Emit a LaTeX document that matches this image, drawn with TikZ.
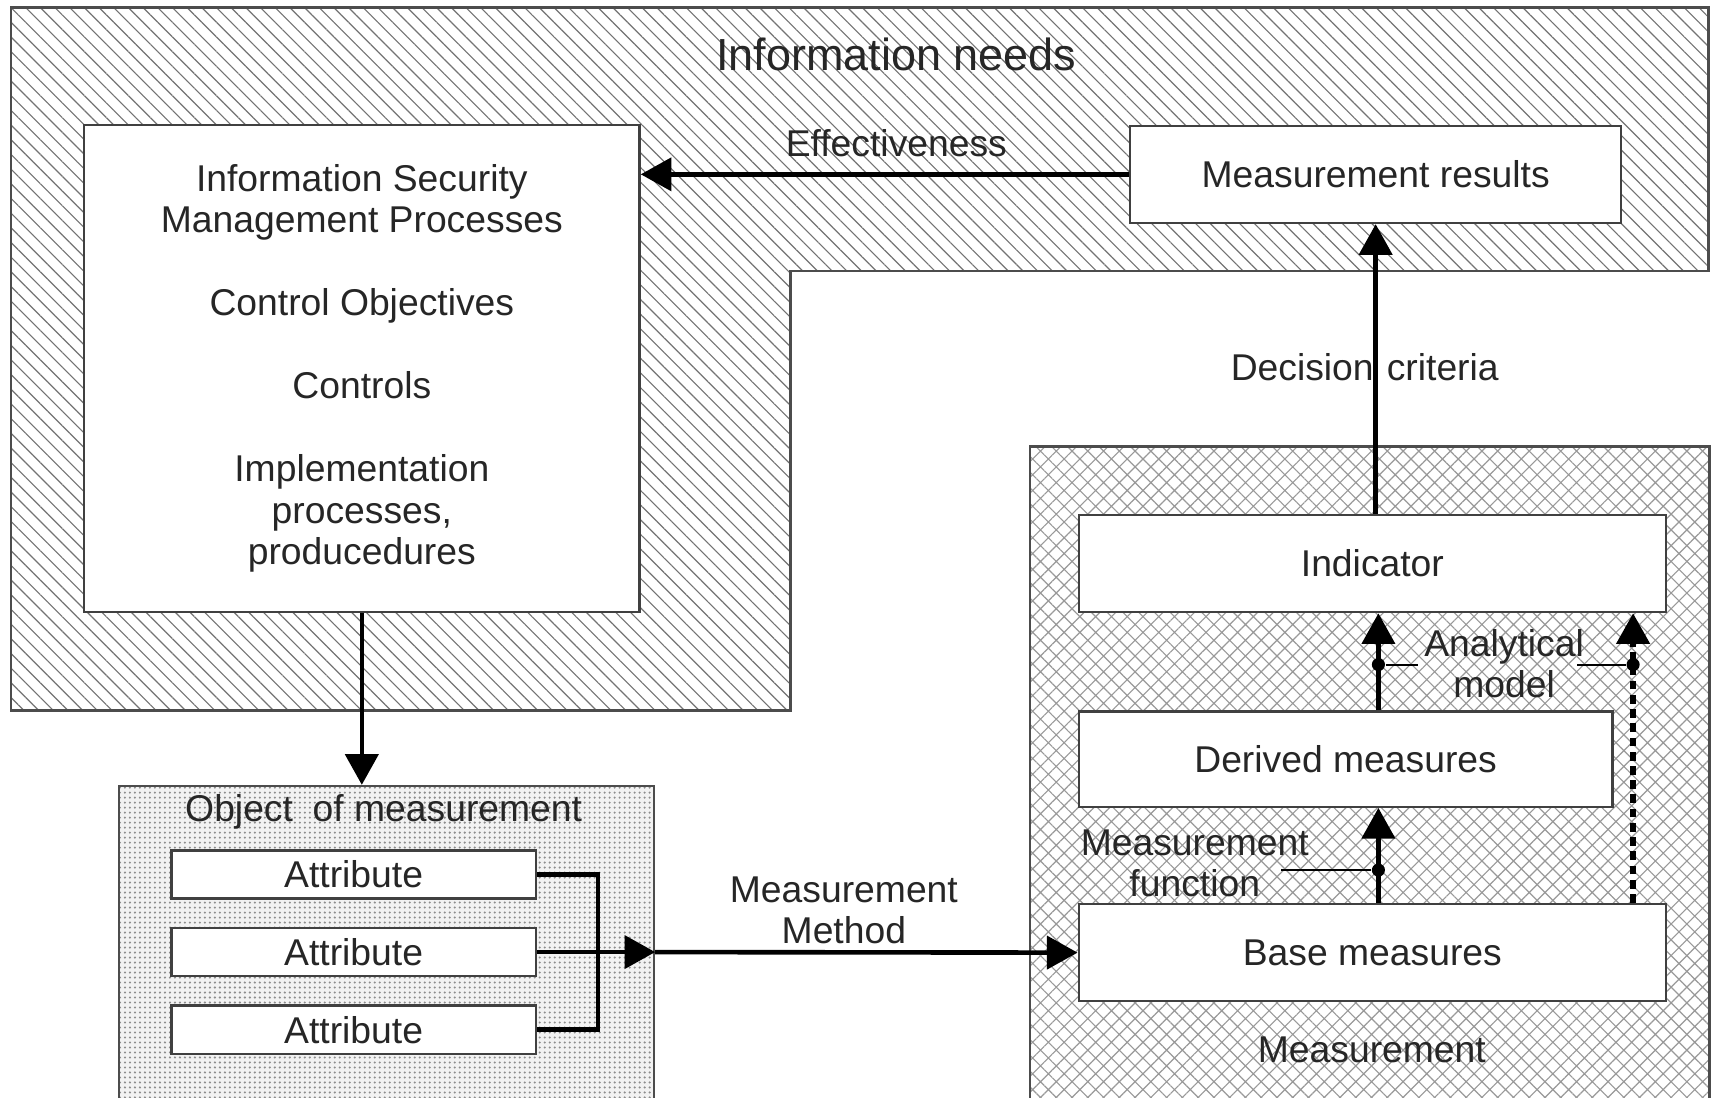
\documentclass[tikz,border=0pt]{standalone}
\usepackage{fontspec}
\setmainfont{Liberation Sans}
\usetikzlibrary{arrows.meta,patterns.meta,calc}

\begin{document}
\begin{tikzpicture}[x=0.01cm, y=-0.01cm,
  every node/.style={font=\fontsize{9.7}{10.8}\selectfont, text=black!85},
  box/.style={draw=black!75, line width=0.6pt, fill=white, rectangle, inner sep=0pt},
  area/.style={draw=black!70, line width=0.6pt, rectangle, anchor=north west, inner sep=0pt},
  flow/.style={line width=1.2pt, -{Triangle[length=0.28cm,width=0.3cm]}},
  wire/.style={line width=1.2pt},
  leader/.style={line width=0.5pt},
  hub/.style={circle, fill=black, inner sep=0pt, minimum size=0.12cm}]

\fill[white] (0,0) rectangle (1568,1004);
\clip (0,0) rectangle (1568,1004);

\draw[line width=0.7pt, draw=black!70, pattern={Lines[angle=-45,distance=2.7pt,line width=0.3pt]}, pattern color=black!55]
  (10,7) -- (1563,7) -- (1563,248) -- (723,248) -- (723,650) -- (10,650) -- cycle;
\node (measurement) [area, minimum width=6.21cm, minimum height=6.5cm, preaction={fill=white}, pattern={Hatch[angle=45,distance=2.9pt,line width=0.3pt]}, pattern color=black!40] at (942,408) {};
\node (object) [area, minimum width=4.89cm, minimum height=3.5cm, preaction={fill=gray!10}, pattern={Dots[distance=1.3pt,radius=0.3pt]}, pattern color=black!45] at (108,718) {};

\node (needs) [font=\fontsize{11.7}{14}\selectfont] at (820,50) {Information needs};
\node (objtitle) at (351,743) {Object\hspace{0.18cm}of measurement};
\node (meastitle) at (1255,960) {Measurement};

\node (isms) [box, align=center, minimum width=5.08cm, minimum height=4.45cm] at (331,337) {Information Security\\Management Processes\\[10.8pt]Control Objectives\\[10.8pt]Controls\\[10.8pt]Implementation\\processes,\\producedures};
\node (results) [box, minimum width=4.49cm, minimum height=0.89cm] at (1258.5,159.5) {Measurement results};
\node (indicator) [box, minimum width=5.37cm, minimum height=0.89cm] at (1255.5,515.5) {Indicator};
\node (derived) [box, minimum width=4.88cm, minimum height=0.87cm] at (1231,694.5) {Derived measures};
\node (base) [box, minimum width=5.37cm, minimum height=0.89cm] at (1255.5,871.5) {Base measures};
\node (attr1) [box, minimum width=3.33cm, minimum height=0.44cm] at (323.5,800) {Attribute};
\node (attr2) [box, minimum width=3.33cm, minimum height=0.44cm] at (323.5,871) {Attribute};
\node (attr3) [box, minimum width=3.33cm, minimum height=0.44cm] at (323.5,942) {Attribute};

\node (effect) at (820,131) {Effectiveness};
\node (decision) at (1248.5,336) {Decision\hspace{0.12cm}criteria};
\node (mfunc) [align=center] at (1093,790) {Measurement\\function};
\node (amodel) [align=center] at (1376,607) {Analytical\\model};
\node (method) [align=center] at (772,833) {Measurement\\Method};

\node (fdot) [hub] at (1261,796) {};
\node (adot) [hub] at (1261,608) {};
\node (mdot) [hub] at (1494,608) {};
\coordinate (ftick) at (1172,796);
\coordinate (atick) at (1297,608);
\coordinate (mtick) at (1443,608);
\coordinate (join) at (547,871);

\draw[flow] (results.west) -- (results.west -| isms.east);
\draw[flow] (indicator.north -| results.south) -- (results.south);
\draw[flow] (isms.south) -- (isms.south |- object.north);
\draw[wire] (attr1.east) -| (join) |- (attr3.east);
\draw[flow] (attr2.east) -- (attr2.east -| object.east);
\draw[flow] (attr2.east -| object.east) -- (base.west);
\draw[flow] (base.north -| fdot) -- (derived.south -| fdot);
\draw[flow] (derived.north -| adot) -- (indicator.south -| adot);
\draw[flow, line width=1.4pt, dash pattern=on 2.3pt off 1.4pt] (base.north -| mdot) -- (indicator.south -| mdot);
\draw[leader] (ftick) -- (fdot);
\draw[leader] (adot) -- (atick);
\draw[leader] (mtick) -- (mdot);

\end{tikzpicture}
\end{document}
